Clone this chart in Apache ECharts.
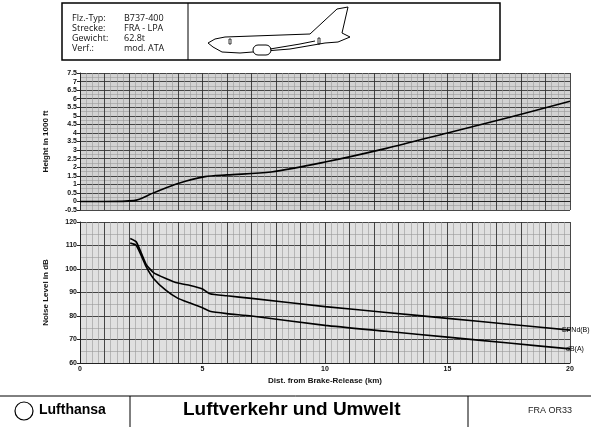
<!DOCTYPE html>
<html><head><meta charset="utf-8">
<script src="https://cdn.jsdelivr.net/npm/echarts@6/dist/echarts.min.js"></script>
<style>body{margin:0;background:#fff}#c{width:591px;height:427px}</style>
</head><body><div id="c"></div>
<script>
// height profile (km, 1000 ft)
var heightKm = [0, 1, 2.2, 3, 4, 5.1, 6, 7.8, 10, 12.5, 15, 17.5, 20];
var heightFt = [0, 0, 0.05, 0.5, 1.05, 1.45, 1.55, 1.72, 2.3, 3.1, 4.0, 4.9, 5.85];
// noise levels (km, dB)
var noiseKm = [2.05, 2.3, 2.7, 3, 3.5, 4, 4.5, 5, 5.3, 6, 7, 10, 12.5, 15, 17.5, 20];
var epndb = [113, 111.5, 102, 98.5, 96, 94, 93, 91.5, 89.5, 88.6, 87.5, 84, 81.5, 79, 76.5, 74];
var dba = [111, 110, 101, 96, 91, 87.5, 85.5, 83.5, 82, 81, 80, 76, 73.5, 71, 68.5, 66];

function pairs(xs, ys) { return xs.map(function (x, i) { return [x, ys[i]]; }); }

var chart = echarts.init(document.getElementById('c'));
var lbl = { fontSize: 7, color: '#111', fontWeight: 'bold', fontFamily: 'Liberation Sans', margin: 3 };
var minor = { show: true, lineStyle: { color: '#999', width: 0.6 } };
var major = { show: true, lineStyle: { color: '#333', width: 0.9 } };
var xBase = {
    type: 'value', min: 0, max: 20, interval: 1,
    axisLine: { lineStyle: { color: '#222' } }, axisTick: { show: false },
    minorTick: { show: false, splitNumber: 4 }, minorSplitLine: minor, splitLine: major
};
var nameStyle = { fontSize: 8, color: '#111', fontWeight: 'bold', fontFamily: 'Liberation Sans' };
chart.setOption({
    animation: false,
    grid: [
        { left: 80, top: 73, width: 490, height: 137, backgroundColor: '#d2d2d2', show: true, borderWidth: 0 },
        { left: 80, top: 222, width: 490, height: 141, backgroundColor: '#e0e0e0', show: true, borderWidth: 0 }
    ],
    xAxis: [
        Object.assign({}, xBase, { gridIndex: 0, axisLabel: { show: false } }),
        Object.assign({}, xBase, {
            gridIndex: 1,
            axisLabel: Object.assign({}, lbl, { formatter: function (v) { return v % 5 === 0 ? v : ''; } }),
            name: 'Dist. from Brake-Release (km)', nameLocation: 'middle', nameGap: 14,
            nameTextStyle: nameStyle
        })
    ],
    yAxis: [
        {
            type: 'value', gridIndex: 0, min: -0.5, max: 7.5, interval: 0.5,
            axisLine: { show: true, lineStyle: { color: '#222' } }, axisTick: { show: true, length: 3 },
            axisLabel: Object.assign({}, lbl, { formatter: function (v) { return String(v); } }),
            splitLine: major, minorTick: { show: false, splitNumber: 2 }, minorSplitLine: minor,
            name: 'Height in 1000 ft', nameLocation: 'middle', nameGap: 30, nameRotate: 90,
            nameTextStyle: nameStyle
        },
        {
            type: 'value', gridIndex: 1, min: 60, max: 120, interval: 10,
            axisLine: { show: true, lineStyle: { color: '#222' } }, axisTick: { show: true, length: 3 },
            axisLabel: lbl, splitLine: major, minorTick: { show: false, splitNumber: 2 }, minorSplitLine: minor,
            name: 'Noise Level in dB', nameLocation: 'middle', nameGap: 30, nameRotate: 90,
            nameTextStyle: nameStyle
        }
    ],
    series: [
        { type: 'line', xAxisIndex: 0, yAxisIndex: 0, data: pairs(heightKm, heightFt), smooth: 0.3, symbol: 'none', lineStyle: { color: '#000', width: 1.6 } },
        { type: 'line', xAxisIndex: 1, yAxisIndex: 1, data: pairs(noiseKm, epndb), smooth: 0.2, symbol: 'none', lineStyle: { color: '#000', width: 1.6 },
          endLabel: { show: true, formatter: 'EPNd(B)', fontSize: 7, color: '#000', offset: [-16, 0] } },
        { type: 'line', xAxisIndex: 1, yAxisIndex: 1, data: pairs(noiseKm, dba), smooth: 0.2, symbol: 'none', lineStyle: { color: '#000', width: 1.6 },
          endLabel: { show: true, formatter: 'dB(A)', fontSize: 7, color: '#000', offset: [-12, 0] } }
    ],
    graphic: [
        { type: 'rect', shape: { x: 62, y: 3, width: 438, height: 57 }, style: { fill: 'none', stroke: '#000', lineWidth: 1.5 } },
        { type: 'line', shape: { x1: 188, y1: 3, x2: 188, y2: 60 }, style: { stroke: '#000', lineWidth: 1 } },
        { type: 'text', left: 72, top: 13, style: { text: 'Flz.-Typ:\nStrecke:\nGewicht:\nVerf.:', font: '9px "Open Sans"', fill: '#111', lineHeight: 10 } },
        { type: 'text', left: 124, top: 13, style: { text: 'B737-400\nFRA - LPA\n62.8t\nmod. ATA', font: '9px "Open Sans"', fill: '#111', lineHeight: 10 } },
        // aircraft sketch
        { type: 'polygon', shape: { points: [[213, 47], [208, 43], [215, 39], [225, 37], [310, 34], [337, 9], [348, 7], [342, 33], [350, 37], [338, 42], [325, 43], [290, 49], [240, 53], [222, 52]] },
          style: { fill: '#fff', stroke: '#000', lineWidth: 1 } },
        { type: 'rect', shape: { x: 253, y: 45, width: 18, height: 10, r: 5 }, style: { fill: '#fff', stroke: '#000', lineWidth: 1 } },
        { type: 'polyline', shape: { points: [[270, 49], [300, 44], [315, 41]] }, style: { stroke: '#000', lineWidth: 1 } },
        { type: 'rect', shape: { x: 229, y: 39, width: 2, height: 5 }, style: { fill: 'none', stroke: '#000', lineWidth: 0.8 } },
        { type: 'rect', shape: { x: 318, y: 38, width: 2, height: 6 }, style: { fill: 'none', stroke: '#000', lineWidth: 0.8 } },
        // footer
        { type: 'line', shape: { x1: 0, y1: 396, x2: 591, y2: 396 }, style: { stroke: '#000', lineWidth: 1 } },
        { type: 'line', shape: { x1: 130, y1: 396, x2: 130, y2: 427 }, style: { stroke: '#000', lineWidth: 1 } },
        { type: 'line', shape: { x1: 468, y1: 396, x2: 468, y2: 427 }, style: { stroke: '#000', lineWidth: 1 } },
        { type: 'circle', shape: { cx: 24, cy: 411, r: 9 }, style: { fill: 'none', stroke: '#000', lineWidth: 1.2 } },
        { type: 'text', left: 39, top: 403, style: { text: 'Lufthansa', font: 'bold 14px "Liberation Sans"', fill: '#000' } },
        { type: 'text', left: 183, top: 400, style: { text: 'Luftverkehr und Umwelt', font: 'bold 19px "Liberation Sans Narrow", "Liberation Sans"', fill: '#000' } },
        { type: 'text', left: 528, top: 406, style: { text: 'FRA OR33', font: '9px "Liberation Sans"', fill: '#222' } }
    ]
});
</script></body></html>
